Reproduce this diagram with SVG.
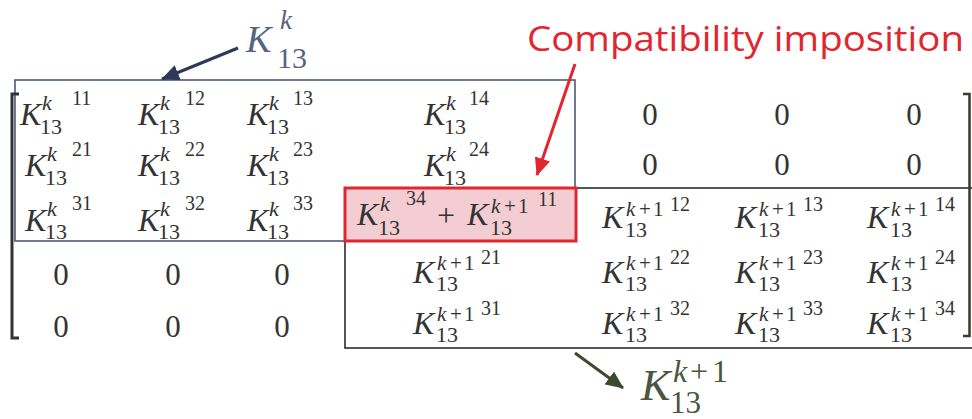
<svg xmlns="http://www.w3.org/2000/svg" width="972" height="419" viewBox="0 0 972 419">
<defs>
<style>
.m{font-family:"Liberation Serif","DejaVu Serif",serif;fill:#333333}
.K{font-size:32px;font-style:italic}
.ks{font-size:22px;font-style:italic}
.kp{font-size:21px;font-style:italic}
.pp{font-size:21px}
.sb{font-size:22px}
.sp{font-size:20px}
.z{font-size:31px;text-anchor:middle}
</style>
<marker id="ahNavy" markerUnits="userSpaceOnUse" markerWidth="20" markerHeight="16" refX="17" refY="8" orient="auto"><path d="M0,0 L18,8 L0,16 Z" fill="#2c3a58"/></marker>
<marker id="ahRed" markerUnits="userSpaceOnUse" markerWidth="20" markerHeight="16" refX="17" refY="8" orient="auto"><path d="M0,0 L18,8 L0,16 Z" fill="#e0262e"/></marker>
<marker id="ahGreen" markerUnits="userSpaceOnUse" markerWidth="20" markerHeight="16" refX="17" refY="8" orient="auto"><path d="M0,0 L18,8 L0,16 Z" fill="#3b4a2c"/></marker>
</defs>
<rect width="972" height="419" fill="#ffffff"/>

<g id="blockK">
<rect x="15" y="80" width="560" height="161" fill="none" stroke="#4b5878" stroke-width="1.6"/>
</g>
<g id="blockK1">
<rect x="345" y="188" width="640" height="160" fill="none" stroke="#2b2b2b" stroke-width="1.6"/>
</g>
<g id="compat">
<rect x="345" y="188" width="231" height="53" fill="#f3cdd2" stroke="#e0262e" stroke-width="3"/>
</g>

<g id="brackets">
<path d="M19 94 L12 94 L12 338 L19 338" fill="none" stroke="#333" stroke-width="3"/>
<path d="M963 94 L969.5 94 L969.5 336 L963 336" fill="none" stroke="#3d3a2a" stroke-width="2.5"/>
</g>

<g id="cellsK">
<text class="m"><tspan class="K" x="20" y="125">K</tspan><tspan class="ks" x="42" y="110">k</tspan><tspan class="sb" x="40" y="134">13</tspan><tspan class="sp" x="72" y="105">11</tspan></text>
<text class="m"><tspan class="K" x="138" y="125">K</tspan><tspan class="ks" x="160" y="110">k</tspan><tspan class="sb" x="158" y="134">13</tspan><tspan class="sp" x="185" y="105">12</tspan></text>
<text class="m"><tspan class="K" x="247" y="125">K</tspan><tspan class="ks" x="269" y="110">k</tspan><tspan class="sb" x="267" y="134">13</tspan><tspan class="sp" x="293" y="105">13</tspan></text>
<text class="m"><tspan class="K" x="424" y="125">K</tspan><tspan class="ks" x="446" y="110">k</tspan><tspan class="sb" x="444" y="134">13</tspan><tspan class="sp" x="469" y="105">14</tspan></text>

<text class="m"><tspan class="K" x="25" y="176">K</tspan><tspan class="ks" x="47" y="161">k</tspan><tspan class="sb" x="45" y="185">13</tspan><tspan class="sp" x="72" y="156">21</tspan></text>
<text class="m"><tspan class="K" x="138" y="176">K</tspan><tspan class="ks" x="160" y="161">k</tspan><tspan class="sb" x="158" y="185">13</tspan><tspan class="sp" x="185" y="156">22</tspan></text>
<text class="m"><tspan class="K" x="247" y="176">K</tspan><tspan class="ks" x="269" y="161">k</tspan><tspan class="sb" x="267" y="185">13</tspan><tspan class="sp" x="293" y="156">23</tspan></text>
<text class="m"><tspan class="K" x="424" y="176">K</tspan><tspan class="ks" x="446" y="161">k</tspan><tspan class="sb" x="444" y="185">13</tspan><tspan class="sp" x="469" y="156">24</tspan></text>

<text class="m"><tspan class="K" x="25" y="231">K</tspan><tspan class="ks" x="47" y="216">k</tspan><tspan class="sb" x="45" y="239">13</tspan><tspan class="sp" x="72" y="210">31</tspan></text>
<text class="m"><tspan class="K" x="138" y="231">K</tspan><tspan class="ks" x="160" y="216">k</tspan><tspan class="sb" x="158" y="239">13</tspan><tspan class="sp" x="185" y="210">32</tspan></text>
<text class="m"><tspan class="K" x="247" y="231">K</tspan><tspan class="ks" x="269" y="216">k</tspan><tspan class="sb" x="267" y="239">13</tspan><tspan class="sp" x="293" y="210">33</tspan></text>
</g>

<g id="cellCompat">
<text class="m"><tspan class="K" x="357" y="225">K</tspan><tspan class="ks" x="380" y="211">k</tspan><tspan class="sb" x="378" y="235">13</tspan><tspan class="sp" x="406" y="205">34</tspan><tspan style="font-size:32px" x="437" y="226">+</tspan><tspan class="K" x="467" y="225">K</tspan><tspan class="kp" x="491" y="213">k</tspan><tspan class="pp" x="504" y="213">+</tspan><tspan class="pp" x="518" y="213">1</tspan><tspan class="sb" x="490" y="235">13</tspan><tspan class="sp" x="538" y="206">11</tspan></text>
</g>

<g id="cellsK1">
<text class="m"><tspan class="K" x="602" y="228">K</tspan><tspan class="kp" x="626" y="216">k</tspan><tspan class="pp" x="639" y="216">+</tspan><tspan class="pp" x="653" y="216">1</tspan><tspan class="sb" x="625" y="237">13</tspan><tspan class="sp" x="670" y="211">12</tspan></text>
<text class="m"><tspan class="K" x="735" y="228">K</tspan><tspan class="kp" x="759" y="216">k</tspan><tspan class="pp" x="772" y="216">+</tspan><tspan class="pp" x="786" y="216">1</tspan><tspan class="sb" x="758" y="237">13</tspan><tspan class="sp" x="803" y="211">13</tspan></text>
<text class="m"><tspan class="K" x="867" y="228">K</tspan><tspan class="kp" x="891" y="216">k</tspan><tspan class="pp" x="904" y="216">+</tspan><tspan class="pp" x="918" y="216">1</tspan><tspan class="sb" x="890" y="237">13</tspan><tspan class="sp" x="935" y="211">14</tspan></text>

<text class="m"><tspan class="K" x="413" y="283">K</tspan><tspan class="kp" x="437" y="270">k</tspan><tspan class="pp" x="450" y="270">+</tspan><tspan class="pp" x="464" y="270">1</tspan><tspan class="sb" x="436" y="291">13</tspan><tspan class="sp" x="481" y="264">21</tspan></text>
<text class="m"><tspan class="K" x="602" y="283">K</tspan><tspan class="kp" x="626" y="270">k</tspan><tspan class="pp" x="639" y="270">+</tspan><tspan class="pp" x="653" y="270">1</tspan><tspan class="sb" x="625" y="291">13</tspan><tspan class="sp" x="670" y="264">22</tspan></text>
<text class="m"><tspan class="K" x="735" y="283">K</tspan><tspan class="kp" x="759" y="270">k</tspan><tspan class="pp" x="772" y="270">+</tspan><tspan class="pp" x="786" y="270">1</tspan><tspan class="sb" x="758" y="291">13</tspan><tspan class="sp" x="803" y="264">23</tspan></text>
<text class="m"><tspan class="K" x="867" y="283">K</tspan><tspan class="kp" x="891" y="270">k</tspan><tspan class="pp" x="904" y="270">+</tspan><tspan class="pp" x="918" y="270">1</tspan><tspan class="sb" x="890" y="291">13</tspan><tspan class="sp" x="935" y="264">24</tspan></text>

<text class="m"><tspan class="K" x="413" y="334">K</tspan><tspan class="kp" x="437" y="321">k</tspan><tspan class="pp" x="450" y="321">+</tspan><tspan class="pp" x="464" y="321">1</tspan><tspan class="sb" x="436" y="342">13</tspan><tspan class="sp" x="481" y="315">31</tspan></text>
<text class="m"><tspan class="K" x="602" y="334">K</tspan><tspan class="kp" x="626" y="321">k</tspan><tspan class="pp" x="639" y="321">+</tspan><tspan class="pp" x="653" y="321">1</tspan><tspan class="sb" x="625" y="342">13</tspan><tspan class="sp" x="670" y="315">32</tspan></text>
<text class="m"><tspan class="K" x="735" y="334">K</tspan><tspan class="kp" x="759" y="321">k</tspan><tspan class="pp" x="772" y="321">+</tspan><tspan class="pp" x="786" y="321">1</tspan><tspan class="sb" x="758" y="342">13</tspan><tspan class="sp" x="803" y="315">33</tspan></text>
<text class="m"><tspan class="K" x="867" y="334">K</tspan><tspan class="kp" x="891" y="321">k</tspan><tspan class="pp" x="904" y="321">+</tspan><tspan class="pp" x="918" y="321">1</tspan><tspan class="sb" x="890" y="342">13</tspan><tspan class="sp" x="935" y="315">34</tspan></text>
</g>

<g id="zeros">
<text class="m z" x="650" y="125">0</text>
<text class="m z" x="782" y="125">0</text>
<text class="m z" x="914" y="125">0</text>
<text class="m z" x="650" y="175">0</text>
<text class="m z" x="782" y="175">0</text>
<text class="m z" x="914" y="175">0</text>
<text class="m z" x="61" y="285">0</text>
<text class="m z" x="173" y="285">0</text>
<text class="m z" x="282" y="285">0</text>
<text class="m z" x="61" y="337">0</text>
<text class="m z" x="173" y="337">0</text>
<text class="m z" x="282" y="337">0</text>
</g>

<g id="labelK">
<text style="font-family:'Liberation Serif',serif;fill:#56647f"><tspan x="246" y="52" style="font-size:38px;font-style:italic">K</tspan><tspan x="280" y="29" style="font-size:27px;font-style:italic">k</tspan><tspan x="277" y="68" style="font-size:30px">13</tspan></text>
</g>
<g id="labelK1">
<text style="font-family:'Liberation Serif',serif;fill:#4a5640"><tspan x="641" y="400" style="font-size:44px;font-style:italic">K</tspan><tspan x="673" y="382" style="font-size:32px;font-style:italic">k</tspan><tspan x="690" y="382" style="font-size:32px">+</tspan><tspan x="712" y="382" style="font-size:32px">1</tspan><tspan x="670" y="413" style="font-size:31px">13</tspan></text>
</g>
<g id="labelCompat">
<text x="527" y="51" textLength="437" lengthAdjust="spacingAndGlyphs" style="font-family:'Open Sans','Liberation Sans',sans-serif;font-size:35px;fill:#e0262e">Compatibility imposition</text>
</g>

<g id="connectors" fill="none" stroke-width="3">
<line x1="238" y1="48" x2="162" y2="79" stroke="#2c3a58" marker-end="url(#ahNavy)"/>
<line x1="575" y1="64" x2="537" y2="175" stroke="#e0262e" marker-end="url(#ahRed)"/>
<line x1="575" y1="353" x2="623" y2="388" stroke="#3b4a2c" marker-end="url(#ahGreen)"/>
</g>
</svg>
